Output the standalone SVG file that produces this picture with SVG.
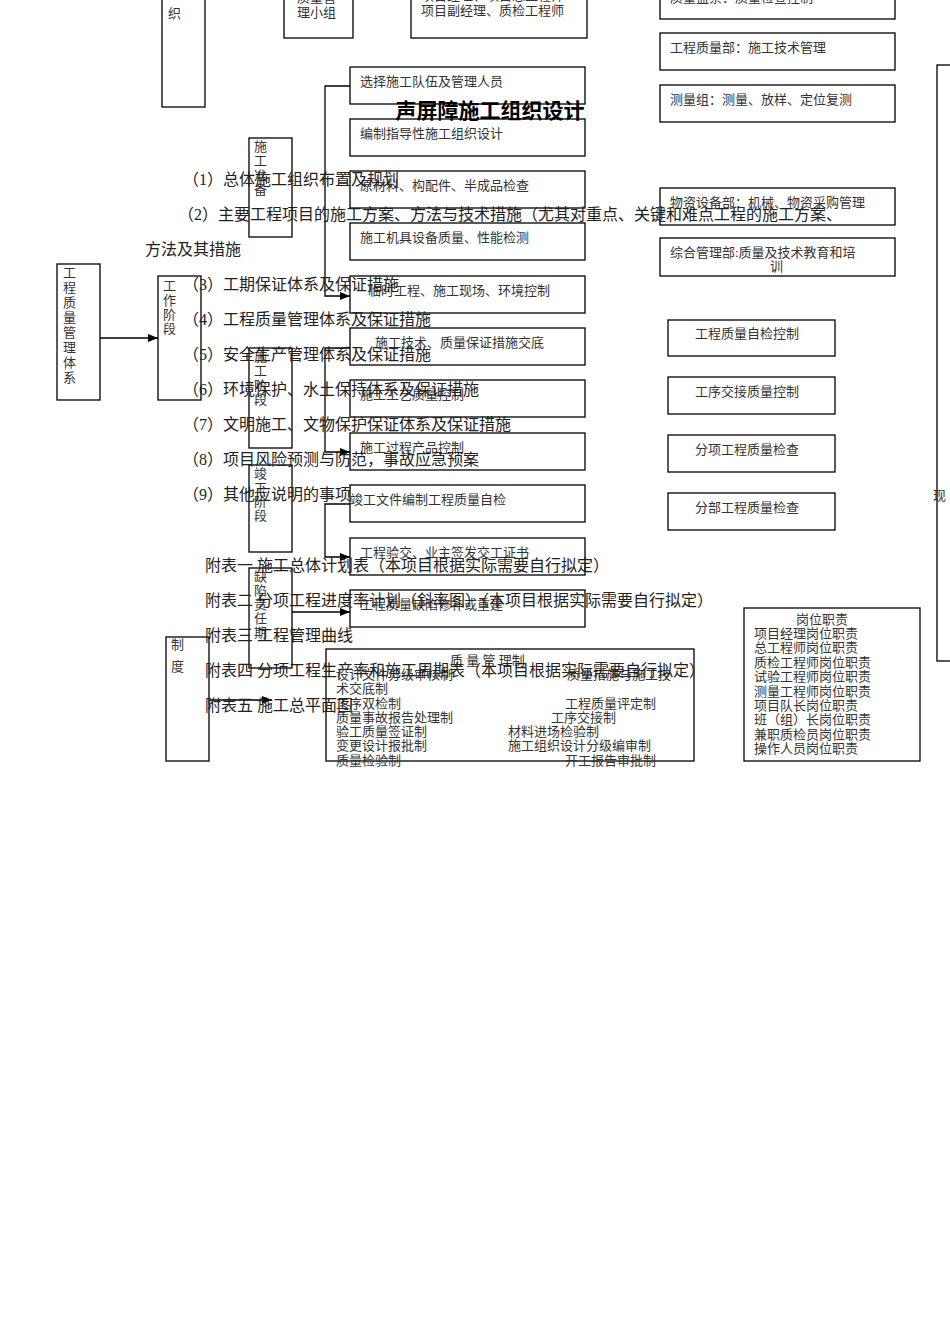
<svg xmlns="http://www.w3.org/2000/svg" width="950" height="1344" viewBox="0 0 950 1344">
<defs>
<style>
rect{fill:none;stroke:#000;stroke-width:1.3}
.s{font-family:"Liberation Serif","Noto Sans CJK SC",serif;font-size:13px;fill:#333}
.b{font-family:"Liberation Serif","Noto Sans CJK SC",serif;font-size:16px;fill:#222}
.c{stroke:#000;stroke-width:1.3;fill:none}
</style>
<marker id="a" markerWidth="10" markerHeight="8" refX="10" refY="4" orient="auto" markerUnits="userSpaceOnUse"><path d="M0,0L10,4L0,8z" fill="#000"/></marker>
</defs>
<rect width="950" height="1344" style="fill:#fff;stroke:none"/>
<g id="top">
<rect x="162" y="-5" width="43" height="112"/><text class="s" x="168" y="18">织</text>
<rect x="284" y="-5" width="69" height="43"/><text class="s" x="297" y="2">质量管</text><text class="s" x="297" y="17">理小组</text>
<rect x="411" y="-5" width="176" height="43"/><text class="s" x="421" y="0">项目经理、项目总工程师</text><text class="s" x="421" y="15">项目副经理、质检工程师</text>
</g>
<g id="right">
<rect x="660" y="-5" width="235" height="24"/><text class="s" x="670" y="2">质量监察：质量检查控制</text>
<rect x="660" y="33" width="235" height="37"/><text class="s" x="670" y="52">工程质量部：施工技术管理</text>
<rect x="660" y="85" width="235" height="37"/><text class="s" x="670" y="104">测量组：测量、放样、定位复测</text>
<rect x="660" y="188" width="235" height="37"/><text class="s" x="670" y="207">物资设备部：机械、物资采购管理</text>
<rect x="660" y="238" width="235" height="38"/><text class="s" x="670" y="257">综合管理部:质量及技术教育和培</text><text class="s" x="770" y="271">训</text>
<rect x="668" y="320" width="167" height="36"/><text class="s" x="695" y="338">工程质量自检控制</text>
<rect x="668" y="377" width="167" height="37"/><text class="s" x="695" y="396">工序交接质量控制</text>
<rect x="668" y="435" width="167" height="37"/><text class="s" x="695" y="454">分项工程质量检查</text>
<rect x="668" y="493" width="167" height="37"/><text class="s" x="695" y="512">分部工程质量检查</text>
<rect x="937" y="65" width="20" height="596"/><text class="s" x="933" y="500">现</text>
</g>
<g id="mid">
<rect x="350" y="67" width="235" height="37"/><text class="s" x="360" y="86">选择施工队伍及管理人员</text>
<rect x="350" y="119" width="235" height="37"/><text class="s" x="360" y="138">编制指导性施工组织设计</text>
<rect x="350" y="171" width="235" height="37"/><text class="s" x="360" y="190">原材料、构配件、半成品检查</text>
<rect x="350" y="223" width="235" height="37"/><text class="s" x="360" y="242">施工机具设备质量、性能检测</text>
<rect x="350" y="276" width="235" height="37"/><text class="s" x="368" y="295">临时工程、施工现场、环境控制</text>
<rect x="350" y="328" width="235" height="37"/><text class="s" x="375" y="347">施工技术、质量保证措施交底</text>
<rect x="350" y="380" width="235" height="37"/><text class="s" x="360" y="399">施工工艺质量控制</text>
<rect x="350" y="433" width="235" height="37"/><text class="s" x="360" y="452">施工过程产品控制</text>
<rect x="350" y="485" width="235" height="37"/><text class="s" x="350" y="504">竣工文件编制工程质量自检</text>
<rect x="350" y="538" width="235" height="37"/><text class="s" x="360" y="557">工程验交、业主签发交工证书</text>
<rect x="350" y="590" width="235" height="37"/><text class="s" x="360" y="609">工程质量缺陷修补或重建</text>
</g>
<g id="stages">
<rect x="57" y="264" width="43" height="136"/>
<text class="s" x="63" y="277">工</text><text class="s" x="63" y="292">程</text><text class="s" x="63" y="307">质</text><text class="s" x="63" y="322">量</text><text class="s" x="63" y="337">管</text><text class="s" x="63" y="352">理</text><text class="s" x="63" y="367">体</text><text class="s" x="63" y="382">系</text>
<rect x="158" y="276" width="43" height="124"/>
<text class="s" x="163" y="290">工</text><text class="s" x="163" y="305">作</text><text class="s" x="163" y="319">阶</text><text class="s" x="163" y="333">段</text>
<rect x="249" y="138" width="43" height="99"/>
<text class="s" x="254" y="151">施</text><text class="s" x="254" y="165">工</text><text class="s" x="254" y="180">准</text><text class="s" x="254" y="194">备</text>
<rect x="249" y="348" width="43" height="100"/>
<text class="s" x="254" y="361">施</text><text class="s" x="254" y="375">工</text><text class="s" x="254" y="390">阶</text><text class="s" x="254" y="404">段</text>
<rect x="249" y="465" width="43" height="87"/>
<text class="s" x="254" y="478">竣</text><text class="s" x="254" y="492">工</text><text class="s" x="254" y="506">阶</text><text class="s" x="254" y="520">段</text>
<rect x="249" y="568" width="43" height="100"/>
<text class="s" x="254" y="581">缺</text><text class="s" x="254" y="595">陷</text><text class="s" x="254" y="609">责</text><text class="s" x="254" y="623">任</text><text class="s" x="254" y="637">期</text>
<rect x="166" y="637" width="43" height="124"/><text class="s" x="171" y="649">制</text><text class="s" x="171" y="671">度</text>
</g>
<g id="system">
<rect x="326" y="649" width="368" height="112"/>
<text class="s" x="450" y="665">质 量 管 理制</text>
<text class="s" x="336" y="679">设计文件分级审核制</text><text class="s" x="567" y="679">质量措施与施工技</text>
<text class="s" x="336" y="693">术交底制</text>
<text class="s" x="336" y="708">工序双检制</text><text class="s" x="565" y="708">工程质量评定制</text>
<text class="s" x="336" y="722">质量事故报告处理制</text><text class="s" x="551" y="722">工序交接制</text>
<text class="s" x="336" y="736">验工质量签证制</text><text class="s" x="508" y="736">材料进场检验制</text>
<text class="s" x="336" y="750">变更设计报批制</text><text class="s" x="508" y="750">施工组织设计分级编审制</text>
<text class="s" x="336" y="765">质量检验制</text><text class="s" x="565" y="765">开工报告审批制</text>
</g>
<g id="resp">
<rect x="744" y="608" width="176" height="153"/>
<text class="s" x="796" y="624">岗位职责</text>
<text class="s" x="754" y="638">项目经理岗位职责</text>
<text class="s" x="754" y="652">总工程师岗位职责</text>
<text class="s" x="754" y="667">质检工程师岗位职责</text>
<text class="s" x="754" y="681">试验工程师岗位职责</text>
<text class="s" x="754" y="696">测量工程师岗位职责</text>
<text class="s" x="754" y="710">项目队长岗位职责</text>
<text class="s" x="754" y="724">班（组）长岗位职责</text>
<text class="s" x="754" y="739">兼职质检员岗位职责</text>
<text class="s" x="754" y="753">操作人员岗位职责</text>
</g>
<g id="connectors">
<path class="c" d="M100,338H158" marker-end="url(#a)"/>
<path class="c" d="M350,86H325V296H350" marker-end="url(#a)"/>
<path class="c" d="M350,348H325V452H350" marker-end="url(#a)"/>
<path class="c" d="M350,504H325V557H350" marker-end="url(#a)"/>
<path class="c" d="M292,612H350" marker-end="url(#a)"/>
<path class="c" d="M209,700H272" marker-end="url(#a)"/>
</g>
<g id="text">
<text x="490" y="118" text-anchor="middle" style="font-family:'Liberation Serif','Noto Sans CJK SC',serif;font-size:21px;font-weight:bold">声屏障施工组织设计</text>
<text class="b" x="183" y="185">（1）总体施工组织布置及规划</text>
<text class="b" x="178" y="220">（2）主要工程项目的施工方案、方法与技术措施（尤其对重点、关键和难点工程的施工方案、</text>
<text class="b" x="145" y="255">方法及其措施</text>
<text class="b" x="183" y="290">（3）工期保证体系及保证措施</text>
<text class="b" x="183" y="325">（4）工程质量管理体系及保证措施</text>
<text class="b" x="183" y="360">（5）安全生产管理体系及保证措施</text>
<text class="b" x="183" y="395">（6）环境保护、水土保持体系及保证措施</text>
<text class="b" x="183" y="430">（7）文明施工、文物保护保证体系及保证措施</text>
<text class="b" x="183" y="465">（8）项目风险预测与防范，事故应急预案</text>
<text class="b" x="183" y="500">（9）其他应说明的事项</text>
<text class="b" x="205" y="571">附表一  施工总体计划表（本项目根据实际需要自行拟定）</text>
<text class="b" x="205" y="606">附表二  分项工程进度率计划（斜率图）（本项目根据实际需要自行拟定）</text>
<text class="b" x="205" y="641">附表三  工程管理曲线</text>
<text class="b" x="205" y="676">附表四  分项工程生产率和施工周期表（本项目根据实际需要自行拟定）</text>
<text class="b" x="205" y="711">附表五  施工总平面图</text>
</g>
</svg>
